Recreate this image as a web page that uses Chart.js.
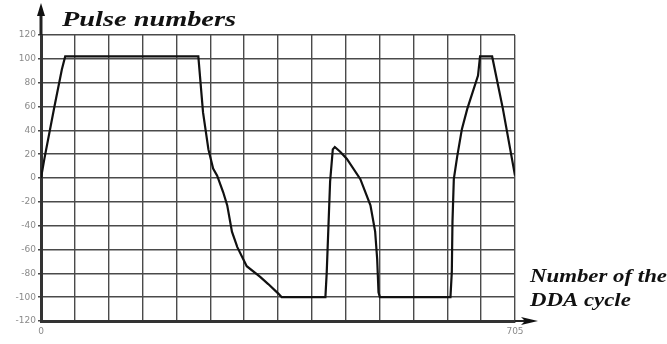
<!DOCTYPE html>
<html>
<head>
<meta charset="utf-8">
<script src="https://cdn.jsdelivr.net/npm/chart.js@4.4.1/dist/chart.umd.min.js"></script>
<style>
  html, body { margin: 0; padding: 0; background: #fff; }
  canvas { display: block; }
</style>
</head>
<body>
<canvas id="pulse-chart" width="667" height="344"></canvas>
<script>
// DDA cycle number vs pulse numbers
const cycleNums = [0, 5, 20, 31, 36, 234, 241, 249, 256, 262, 271, 277, 284, 292, 306, 326, 338, 353, 358, 423,
    425, 430, 434, 437, 445, 455, 475, 490, 497, 500, 502, 504, 609, 611, 612, 614, 619, 626, 634, 650,
    653, 671, 687, 705];
const pulseNums = [0, 16, 60, 91, 102, 102, 55, 24, 8, 2, -12, -23, -45, -58, -74, -83, -89, -97, -100, -100,
    -79, -3, 24, 26, 22, 16, -1, -23, -45, -68, -96, -100, -100, -79, -37, -1, 18, 41, 58, 86,
    102, 102, 58, 2];

const yTickLabels = ['120', '100', '80', '60', '40', '20', '0', '-20', '-40', '-60', '-80', '-100', '-120'];
const xTickLabels = ['0', '705'];
const xMax = 705;
const xDivisions = 14;

const points = cycleNums.map((c, i) => ({ x: c, y: pulseNums[i] }));

// axis arrows and the italic captions
const decorations = {
    id: 'decorations',
    afterDraw(chart) {
        const ctx = chart.ctx;
        const a = chart.chartArea;
        ctx.save();
        ctx.strokeStyle = '#222';
        ctx.fillStyle = '#111';
        ctx.lineWidth = 3;
        // y axis extension + arrow
        ctx.beginPath();
        ctx.moveTo(a.left, a.top);
        ctx.lineTo(a.left, 12);
        ctx.stroke();
        ctx.beginPath();
        ctx.moveTo(a.left, 3);
        ctx.lineTo(a.left - 4, 16);
        ctx.lineTo(a.left + 4, 16);
        ctx.closePath();
        ctx.fill();
        // x axis extension + arrow
        ctx.lineWidth = 2;
        ctx.beginPath();
        ctx.moveTo(a.right, a.bottom);
        ctx.lineTo(a.right + 10, a.bottom);
        ctx.stroke();
        ctx.beginPath();
        ctx.moveTo(a.right + 23, a.bottom);
        ctx.lineTo(a.right + 6, a.bottom - 4);
        ctx.lineTo(a.right + 10, a.bottom);
        ctx.lineTo(a.right + 6, a.bottom + 4);
        ctx.closePath();
        ctx.fill();

        const drawStretched = (text, x, y, sx) => {
            ctx.save();
            ctx.translate(x, y);
            ctx.scale(sx, 1);
            ctx.fillText(text, 0, 0);
            ctx.restore();
        };
        ctx.font = 'bold italic 20px "Liberation Serif"';
        ctx.fillStyle = '#111';
        ctx.textBaseline = 'alphabetic';
        let sx = 174 / ctx.measureText('Pulse numbers').width;
        drawStretched('Pulse numbers', 62, 26, sx);
        ctx.font = 'bold italic 19px "Liberation Serif"';
        sx = 137 / ctx.measureText('Number of the').width;
        drawStretched('Number of the', 530, 282, sx);
        drawStretched('DDA cycle', 530, 306, sx);
        ctx.restore();
    }
};

new Chart(document.getElementById('pulse-chart').getContext('2d'), {
    type: 'scatter',
    data: {
        datasets: [{
            data: points,
            showLine: true,
            borderColor: '#111',
            borderWidth: 2.2,
            pointRadius: 0,
            tension: 0
        }]
    },
    options: {
        responsive: false,
        animation: false,
        layout: { padding: { left: 0, top: 35, right: 152, bottom: 0 } },
        plugins: {
            legend: { display: false },
            tooltip: { enabled: false }
        },
        scales: {
            x: {
                type: 'linear',
                min: 0,
                max: xMax,
                afterBuildTicks: axis => {
                    const t = [];
                    for (let i = 0; i <= xDivisions; i++) t.push({ value: i * xMax / xDivisions });
                    axis.ticks = t;
                },
                afterFit: scale => { scale.height = 23; },
                grid: { color: '#4a4a4a', lineWidth: 1.4, drawTicks: false },
                border: { color: '#333', width: 3 },
                ticks: {
                    padding: 5,
                    color: '#8a8a8a',
                    font: { family: 'DejaVu Sans', size: 9 },
                    maxRotation: 0,
                    autoSkip: false,
                    callback: (v, i, ticks) => i === 0 ? xTickLabels[0] : (i === ticks.length - 1 ? xTickLabels[1] : '')
                }
            },
            y: {
                min: -120,
                max: 120,
                afterFit: scale => { scale.width = 41; },
                grid: { color: '#4a4a4a', lineWidth: 1.4, tickLength: 3 },
                border: { color: '#333', width: 3 },
                ticks: {
                    stepSize: 20,
                    padding: 2,
                    color: '#8a8a8a',
                    font: { family: 'DejaVu Sans', size: 9 },
                    callback: (v, i, ticks) => yTickLabels[ticks.length - 1 - i]
                }
            }
        }
    },
    plugins: [decorations]
});
</script>
</body>
</html>
